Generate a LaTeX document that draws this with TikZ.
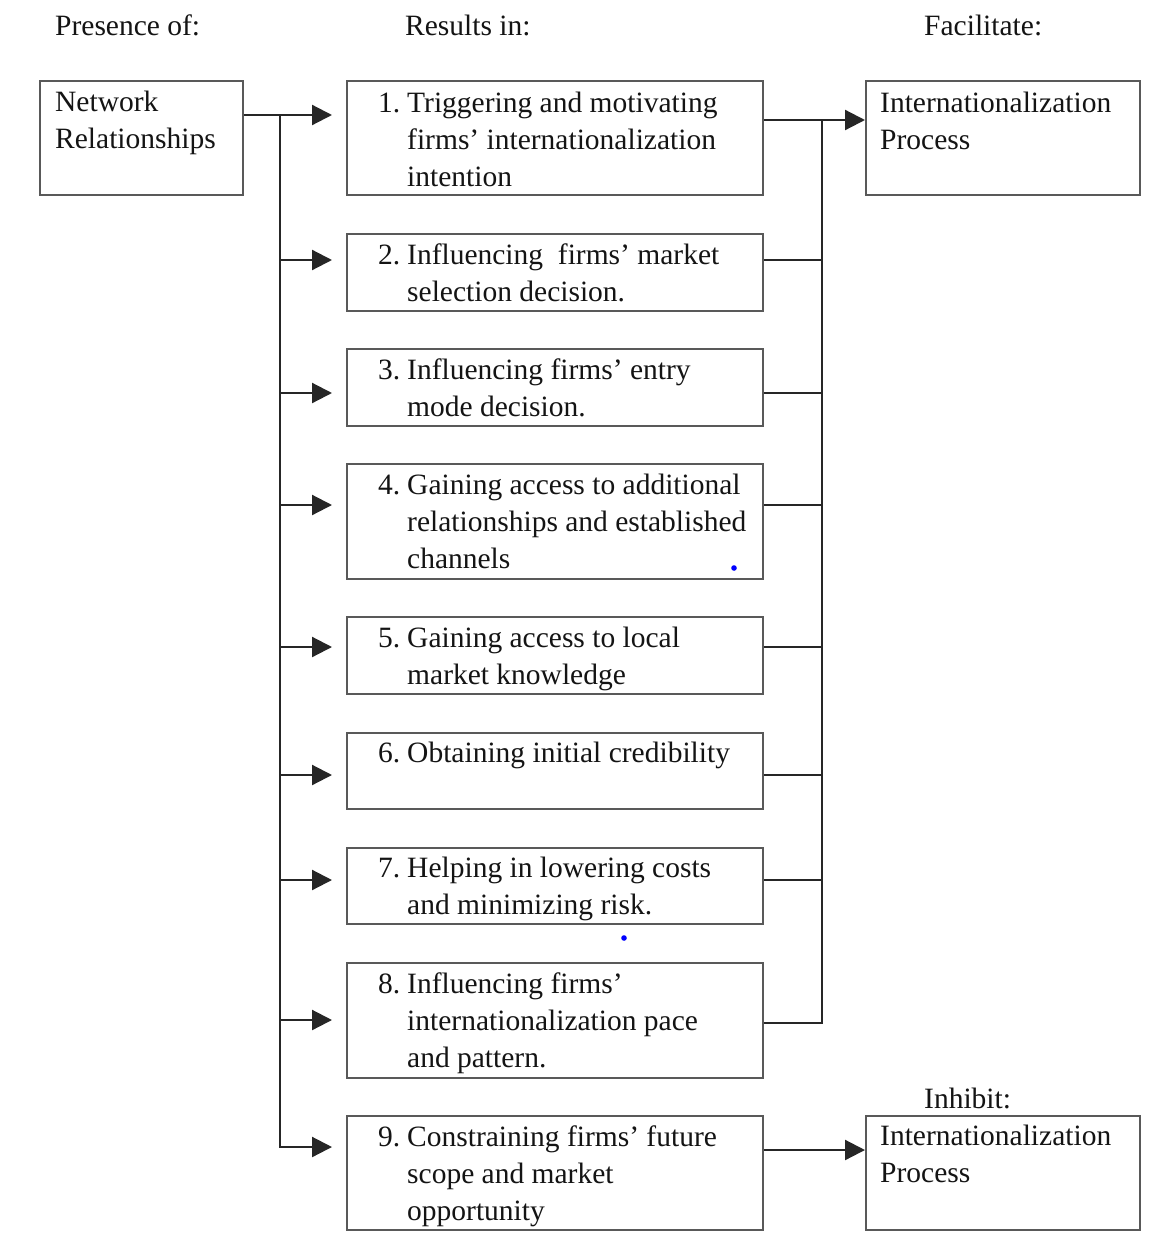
\documentclass[tikz,border=0pt]{standalone}
\usepackage{fontspec}
\setmainfont{Liberation Serif}
\usetikzlibrary{arrows.meta}
\newcommand\tline[1]{\hbox{#1}}
\newcommand\numlab[1]{\makebox[29pt][l]{#1}}
\newcommand\ind{\hspace*{29pt}}
\begin{document}
\begin{tikzpicture}[x=1pt,y=-1pt,
  boxst/.style={draw=black!65,line width=2pt,rectangle,inner sep=0pt},
  txt/.style={anchor=base west,inner sep=0pt,font=\fontsize{29.5}{37}\selectfont,text=black!92},
  conn/.style={draw=black!85,line width=2.2pt},
  arr/.style={conn,-{Triangle[length=20pt,width=20pt]}},
]
\useasboundingbox[fill=white] (0,0) rectangle (1166,1258);
% box helper: name, x1,y1,x2,y2
\def\mkbox#1#2#3#4#5{\node[boxst,minimum width={#4-#2},minimum height={#5-#3}] (#1) at ({(#2+#4)/2},{(#3+#5)/2}) {};}
\mkbox{net}{40}{81}{243}{195}
\mkbox{b1}{347}{81}{763}{195}
\mkbox{b2}{347}{234}{763}{311}
\mkbox{b3}{347}{349}{763}{426}
\mkbox{b4}{347}{464}{763}{579}
\mkbox{b5}{347}{617}{763}{694}
\mkbox{b6}{347}{733}{763}{809}
\mkbox{b7}{347}{848}{763}{924}
\mkbox{b8}{347}{963}{763}{1078}
\mkbox{b9}{347}{1116}{763}{1230}
\mkbox{fac}{866}{81}{1140}{195}
\mkbox{inh}{866}{1116}{1140}{1230}

% headers
\node[txt] (h1) at (55,35) {Presence of:};
\node[txt] (h2) at (405,35) {Results in:};
\node[txt] (h3) at (924,35) {Facilitate:};
\node[txt] (h4) at (924,1108) {Inhibit:};

% box texts
\node[txt] (tnet) at (55,111) {\vtop{\tline{Network}\tline{Relationships}}};
\node[txt] (t1) at (378,112) {\vtop{\tline{\numlab{1.}Triggering and motivating}\tline{\ind firms' internationalization}\tline{\ind intention}}};
\node[txt] (t2) at (378,264) {\vtop{\tline{\numlab{2.}Influencing\ \ firms' market}\tline{\ind selection decision.}}};
\node[txt] (t3) at (378,379) {\vtop{\tline{\numlab{3.}Influencing firms' entry}\tline{\ind mode decision.}}};
\node[txt] (t4) at (378,494) {\vtop{\tline{\numlab{4.}Gaining access to additional}\tline{\ind relationships and established}\tline{\ind channels}}};
\node[txt] (t5) at (378,647) {\vtop{\tline{\numlab{5.}Gaining access to local}\tline{\ind market knowledge}}};
\node[txt] (t6) at (378,762) {\numlab{6.}Obtaining initial credibility};
\node[txt] (t7) at (378,877) {\vtop{\tline{\numlab{7.}Helping in lowering costs}\tline{\ind and minimizing risk.}}};
\node[txt] (t8) at (378,993) {\vtop{\tline{\numlab{8.}Influencing firms'}\tline{\ind internationalization pace}\tline{\ind and pattern.}}};
\node[txt] (t9) at (378,1146) {\vtop{\tline{\numlab{9.}Constraining firms' future}\tline{\ind scope and market}\tline{\ind opportunity}}};
\node[txt] (tfac) at (880,112) {\vtop{\tline{Internationalization}\tline{Process}}};
\node[txt] (tinh) at (880,1145) {\vtop{\tline{Internationalization}\tline{Process}}};

% left bus
\coordinate (L1) at (280,115);
\coordinate (L2) at (280,260);
\coordinate (L3) at (280,393);
\coordinate (L4) at (280,505);
\coordinate (L5) at (280,647);
\coordinate (L6) at (280,775);
\coordinate (L7) at (280,880);
\coordinate (L8) at (280,1020);
\coordinate (L9) at (280,1147);
\draw[arr,shorten >=14pt] (L1 -| net.east) -- (L1 -| b1.west);
\draw[arr,shorten >=14pt] (L1) -- (L9) -- (L9 -| b9.west);
\foreach \i in {2,...,8}{
  \draw[arr,shorten >=14pt] (L\i) -- (L\i -| b\i.west);
}

% right bus
\coordinate (R1) at (822,120);
\coordinate (R2) at (822,260);
\coordinate (R3) at (822,393);
\coordinate (R4) at (822,505);
\coordinate (R5) at (822,647);
\coordinate (R6) at (822,775);
\coordinate (R7) at (822,880);
\coordinate (R8) at (822,1023);
\draw[conn] (R8 -| b8.east) -- (R8) -- (R1);
\foreach \i in {2,...,7}{
  \draw[conn] (R\i -| b\i.east) -- (R\i);
}
\draw[arr] (R1 -| b1.east) -- (R1 -| fac.west);
\coordinate (R9) at (822,1150);
\draw[arr] (R9 -| b9.east) -- (R9 -| inh.west);

% small blue dots
\fill[blue] (734,568) circle (2.8);
\fill[blue] (624,938) circle (2.8);
\end{tikzpicture}
\end{document}
